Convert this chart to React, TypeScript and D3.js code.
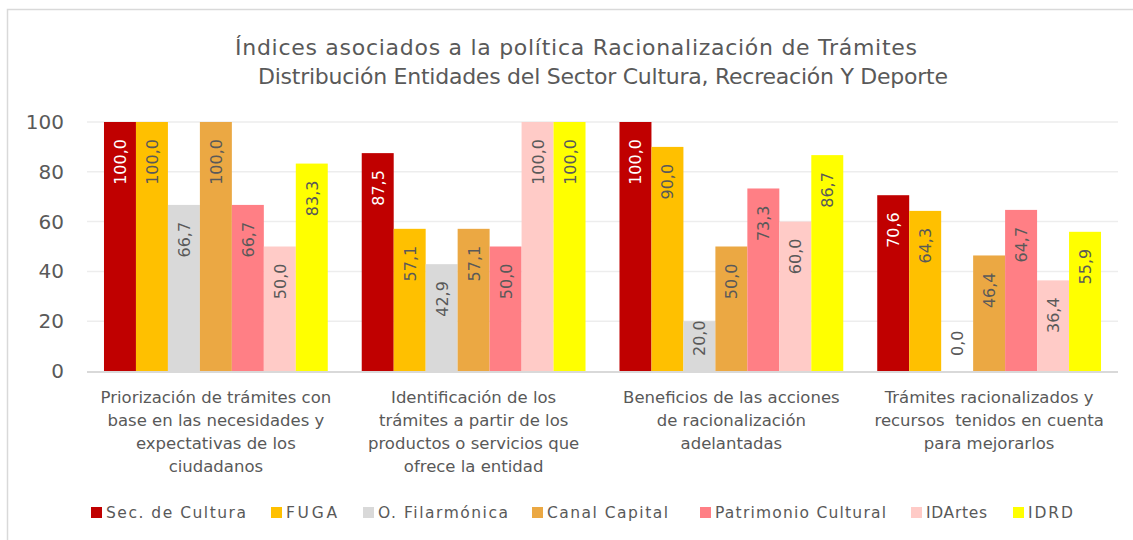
import React from "react";
import * as d3 from "d3";

// categorias (eje x) y series
const categories = [
  ["Priorización de trámites con", "base en las necesidades y", "expectativas de los", "ciudadanos"],
  ["Identificación de los", "trámites a partir de los", "productos o servicios que", "ofrece la entidad"],
  ["Beneficios de las acciones", "de racionalización", "adelantadas"],
  ["Trámites racionalizados y", "recursos  tenidos en cuenta", "para mejorarlos"],
];

const seriesNames = [
  "Sec. de Cultura",
  "FUGA",
  "O. Filarmónica",
  "Canal Capital",
  "Patrimonio Cultural",
  "IDArtes",
  "IDRD",
];

const secCultura = [100.0, 87.5, 100.0, 70.6];
const fuga = [100.0, 57.1, 90.0, 64.3];
const filarmonica = [66.7, 42.9, 20.0, 0.0];
const canalCapital = [100.0, 57.1, 50.0, 46.4];
const patrimonio = [66.7, 50.0, 73.3, 64.7];
const idartes = [50.0, 100.0, 60.0, 36.4];
const idrd = [83.3, 100.0, 86.7, 55.9];

const yTicks = [0, 20, 40, 60, 80, 100];

const titleLines = [
  "Índices asociados a la política Racionalización de Trámites",
  "Distribución Entidades del Sector Cultura, Recreación Y Deporte",
];

const seriesValues = [secCultura, fuga, filarmonica, canalCapital, patrimonio, idartes, idrd];
const colors = ["#C00000", "#FFC000", "#D9D9D9", "#EBA843", "#FF7F85", "#FFCBC7", "#FFFF00"];
const labelColors = ["#FFFFFF", "#595959", "#595959", "#595959", "#595959", "#595959", "#595959"];

const FONT = "'DejaVu Sans', sans-serif";
const LABEL_SIZE = 16;

// rough length of a number label in DejaVu Sans
const labelLen = (s: string) =>
  s.split("").reduce((acc, c) => acc + (c === "," ? 0.318 : 0.636), 0) * LABEL_SIZE;

export default function App() {
  const width = 1133;
  const height = 540;
  const margin = { left: 87, right: 15, top: 122, bottom: 169 };
  const plotW = width - margin.left - margin.right;
  const plotH = height - margin.top - margin.bottom;

  const x0 = d3
    .scaleBand<number>()
    .domain(d3.range(categories.length))
    .range([margin.left, margin.left + plotW])
    .paddingInner(34 / 258)
    .paddingOuter(17 / 258);
  const x1 = d3
    .scaleBand<number>()
    .domain(d3.range(seriesNames.length))
    .range([0, x0.bandwidth()]);
  const y = d3.scaleLinear().domain([0, 100]).range([margin.top + plotH, margin.top]);

  const fmt = (v: number) => v.toFixed(1).replace(".", ",");

  // legend layout
  const legendX = [91, 271, 363, 532, 700, 911, 1013];
  const legendW = [140, 51, 130, 121, 171, 61, 45];

  return (
    <svg width={width} height={height} style={{ position: "absolute", left: 0, top: 0 }}>
      <rect x={0} y={0} width={width} height={height} fill="#fff" />
      <rect x={7.5} y={9.5} width={width + 20} height={height + 20} fill="#fff" stroke="#D9D9D9" strokeWidth={1.5} />

      <g fontFamily={FONT} fill="#595959" fontSize={22}>
        <text x={235} y={55} textLength={682} lengthAdjust="spacing">
          {titleLines[0]}
        </text>
        <text x={258} y={84} textLength={690} lengthAdjust="spacing">
          {titleLines[1]}
        </text>
      </g>

      {/* grid */}
      {yTicks.map((t) => (
        <g key={t}>
          {t > 0 && (
            <line x1={margin.left} x2={margin.left + plotW} y1={y(t)} y2={y(t)} stroke="#EDEDED" strokeWidth={1.5} />
          )}
          <text x={64} y={y(t) + 7} textAnchor="end" fontFamily={FONT} fontSize={20} fill="#595959">
            {t}
          </text>
        </g>
      ))}

      {/* bars */}
      {categories.map((_, ci) => (
        <g key={ci} transform={`translate(${x0(ci)},0)`}>
          {seriesValues.map((vals, si) => {
            const v = vals[ci];
            const bx = x1(si)!;
            const bw = x1.bandwidth();
            const top = y(v);
            const cx = bx + bw / 2;
            const lbl = fmt(v);
            const len = labelLen(lbl);
            const fits = top + 17 + len <= y(0) - 15;
            return (
              <g key={si}>
                <rect x={bx} y={top} width={bw} height={y(0) - top} fill={colors[si]} />
                <text
                  transform={`translate(${cx + 6},${fits ? top + 17 : y(0) - 15}) rotate(-90)`}
                  textAnchor={fits ? "end" : "start"}
                  fontFamily={FONT}
                  fontSize={LABEL_SIZE}
                  fill={v === 0 ? "#595959" : labelColors[si]}
                >
                  {lbl}
                </text>
              </g>
            );
          })}
        </g>
      ))}

      <line x1={margin.left} x2={margin.left + plotW} y1={y(0) + 1} y2={y(0) + 1} stroke="#D9D9D9" strokeWidth={2} />

      {/* x labels */}
      {categories.map((lines, ci) => (
        <text
          key={ci}
          x={x0(ci)! + x0.bandwidth() / 2}
          y={403}
          textAnchor="middle"
          fontFamily={FONT}
          fontSize={16.5}
          fill="#595959"
          style={{ whiteSpace: "pre" }}
        >
          {lines.map((l, li) => (
            <tspan key={li} x={x0(ci)! + x0.bandwidth() / 2} dy={li === 0 ? 0 : 23}>
              {l}
            </tspan>
          ))}
        </text>
      ))}

      {/* legend */}
      {seriesNames.map((n, si) => (
        <g key={si}>
          <rect x={legendX[si]} y={507} width={11} height={11} fill={colors[si]} />
          <text
            x={legendX[si] + 15}
            y={518}
            fontFamily={FONT}
            fontSize={15.5}
            fill="#595959"
            textLength={legendW[si]}
            lengthAdjust="spacing"
          >
            {n}
          </text>
        </g>
      ))}
    </svg>
  );
}
